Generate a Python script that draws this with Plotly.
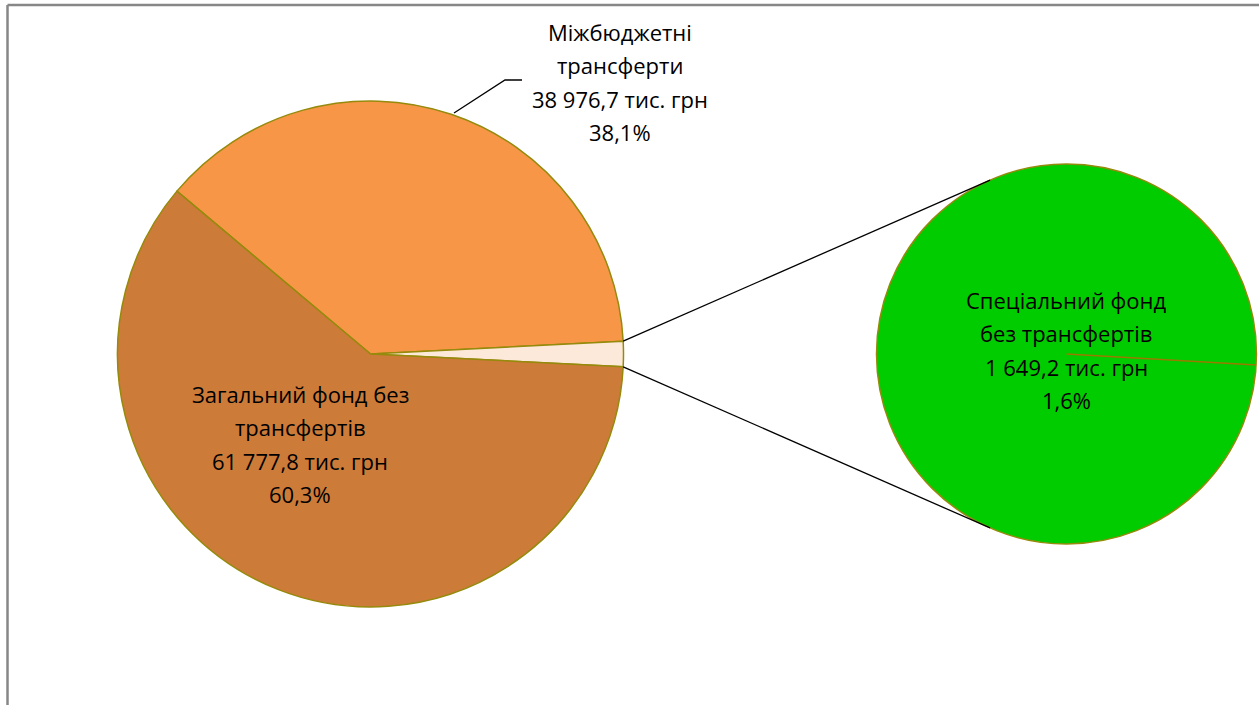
import math
import plotly.graph_objects as go

# ---- data ----
main_labels = ["Міжбюджетні трансферти", "Спеціальний фонд без трансфертів", "Загальний фонд без трансфертів"]
main_values = [38976.7, 1649.2, 61777.8]
main_colors = ["#F79646", "#FDE9D9", "#CD7B39"]
second_labels = ["Спеціальний фонд без трансфертів"]
second_values = [1649.2]
second_colors = ["#00CC00"]

label_lines = {
    "Міжбюджетні трансферти": ["Міжбюджетні", "трансферти"],
    "Загальний фонд без трансфертів": ["Загальний фонд без", "трансфертів"],
    "Спеціальний фонд без трансфертів": ["Спеціальний фонд", "без трансфертів"],
}

W, H = 1259, 705
FONT = "Open Sans"
FS = 22
LINE = 33.5
BORDER = "#958A0C"

total = sum(main_values)
pct = [v / total * 100 for v in main_values]


def fmt_num(v):
    s = f"{v:,.1f}".replace(",", " ").replace(".", ",")
    return s


def fmt_pct(p):
    return f"{p:.1f}".replace(".", ",") + "%"


def px(x):
    return x / W


def py(y):
    return 1 - y / H


# geometry (pixels)
c1x, c1y, r1 = 370.5, 354.0, 253.0
c2x, c2y, r2 = 1066.5, 354.0, 190.0

half_small = 360 * main_values[1] / total / 2
start_angle = half_small + 360 * main_values[0] / total  # math angle where first slice begins

fig = go.Figure()
fig.add_trace(go.Pie(
    labels=main_labels, values=main_values, sort=False, direction="clockwise",
    rotation=90 - start_angle,
    marker=dict(colors=main_colors, line=dict(color=BORDER, width=1.5)),
    textinfo="none", hoverinfo="label+value+percent", showlegend=False,
    domain=dict(x=[px(c1x - r1), px(c1x + r1)], y=[py(c1y + r1), py(c1y - r1)]),
))
fig.add_trace(go.Pie(
    labels=second_labels, values=second_values, sort=False,
    marker=dict(colors=second_colors, line=dict(color=BORDER, width=1.5)),
    textinfo="none", hoverinfo="label+value", showlegend=False,
    domain=dict(x=[px(c2x - r2), px(c2x + r2)], y=[py(c2y + r2), py(c2y - r2)]),
))

shapes = []
# frame lines (top and left)
shapes.append(dict(type="line", xref="paper", yref="paper", x0=px(7.5), x1=1, y0=py(5), y1=py(5),
                   line=dict(color="#878787", width=2.5)))
shapes.append(dict(type="line", xref="paper", yref="paper", x0=px(7.5), x1=px(7.5), y0=py(5), y1=0,
                   line=dict(color="#878787", width=2.5)))

# connector lines: from small-slice edges to tangent points on second pie
for sgn in (1, -1):
    a = math.radians(sgn * half_small)
    Px = c1x + r1 * math.cos(a)
    Py = c1y - r1 * math.sin(a)
    dx, dy = Px - c2x, -(Py - c2y)
    d = math.hypot(dx, dy)
    base = math.atan2(dy, dx)
    off = math.acos(r2 / d)
    t = base - off if sgn == 1 else base + off
    Tx = c2x + r2 * math.cos(t)
    Ty = c2y - r2 * math.sin(t)
    shapes.append(dict(type="line", xref="paper", yref="paper", x0=px(Px), y0=py(Py), x1=px(Tx), y1=py(Ty),
                       line=dict(color="black", width=1.3)))

# radial line in second pie
a = math.radians(-half_small - 0.4)
shapes.append(dict(type="line", xref="paper", yref="paper", x0=px(c2x), y0=py(c2y),
                   x1=px(c2x + r2 * math.cos(a)), y1=py(c2y - r2 * math.sin(a)),
                   line=dict(color="#9A7A00", width=1.5)))

# leader line for the transfers label
shapes.append(dict(type="path", xref="paper", yref="paper",
                   path=f"M {px(454)} {py(113)} L {px(505)} {py(80)} L {px(522)} {py(80)}",
                   line=dict(color="black", width=1.3)))

annotations = []


def add_label(lines, cx, cy):
    n = len(lines)
    for i, t in enumerate(lines):
        y = cy + (i - (n - 1) / 2) * LINE
        annotations.append(dict(text=t, x=px(cx), y=py(y), xref="paper", yref="paper",
                                showarrow=False, xanchor="center", yanchor="middle",
                                font=dict(family=FONT, size=FS, color="black")))


for i, lab in enumerate(main_labels):
    lines = label_lines[lab] + [fmt_num(main_values[i]) + " тис. грн", fmt_pct(pct[i])]
    if i == 0:
        add_label(lines, 620, 82)
    elif i == 2:
        add_label(lines, 300, 444)
    else:
        add_label(lines, 1066, 350)

fig.update_layout(
    width=W, height=H, margin=dict(l=0, r=0, t=0, b=0),
    paper_bgcolor="white", plot_bgcolor="white",
    shapes=shapes, annotations=annotations,
)
fig.write_html("out.html", config={"displayModeBar": False},
               post_script="document.body.style.margin='0';document.body.style.overflow='hidden';")
